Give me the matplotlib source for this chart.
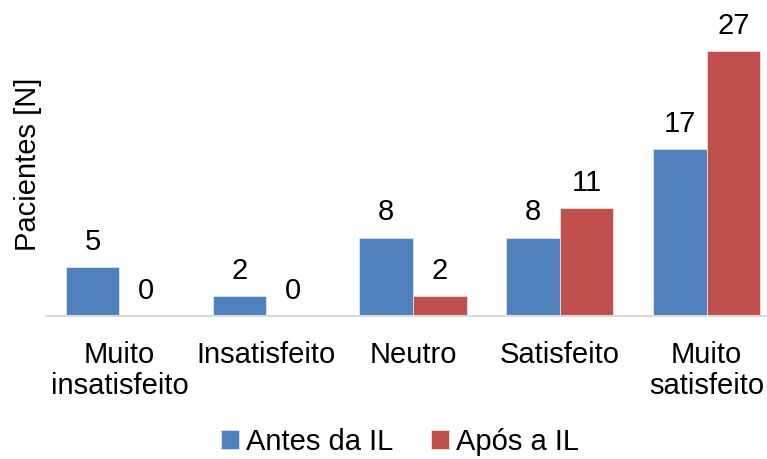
import matplotlib
matplotlib.use("Agg")
import matplotlib.pyplot as plt
import numpy as np

categories = ["Muito\ninsatisfeito", "Insatisfeito", "Neutro", "Satisfeito", "Muito\nsatisfeito"]
antes = [5, 2, 8, 8, 17]
apos = [0, 0, 2, 11, 27]
series_names = ["Antes da IL", "Após a IL"]

plt.rcParams['font.family'] = ['Liberation Sans', 'DejaVu Sans']
FS = 21

W, H = 767, 459
fig = plt.figure(figsize=(W / 100, H / 100), dpi=100)
left, right = 46 / W, 780 / W
bottom, top = (H - 316) / H, (H - 12) / H
ax = fig.add_axes([left, bottom, right - left, top - bottom])

x = np.arange(len(categories))
w = 0.365
blue, red = "#4F81BD", "#C0504D"
b1 = ax.bar(x - w / 2, antes, w, color=blue, edgecolor="#dfe6f0", linewidth=0.6, label=series_names[0])
b2 = ax.bar(x + w / 2, apos, w, color=red, edgecolor="#efdede", linewidth=0.6, label=series_names[1])

for bars, vals in ((b1, antes), (b2, apos)):
    for rect, v in zip(bars, vals):
        ax.annotate(str(v), (rect.get_x() + rect.get_width() / 2, v),
                    xytext=(0, 8), textcoords="offset points",
                    ha="center", va="bottom", fontsize=FS)

ax.set_xlim(-0.5, len(categories) - 0.5)
ax.set_ylim(0, 31)
ax.set_xticks(x)
ax.set_xticklabels(categories, fontsize=FS, linespacing=1.15)
ax.tick_params(axis="x", length=0, pad=18)
ax.set_yticks([])
for s in ("top", "right", "left"):
    ax.spines[s].set_visible(False)
ax.spines["bottom"].set_color("#D9D9D9")
ax.spines["bottom"].set_linewidth(1.5)
ax.set_ylabel("Pacientes [N]", fontsize=FS, labelpad=3)

fig.legend(handles=[b1, b2], labels=series_names, loc="center",
           bbox_to_anchor=(400 / W, 1 - 442 / H), ncol=2, frameon=False,
           fontsize=FS, handlelength=0.6, handleheight=0.6,
           handletextpad=0.25, columnspacing=1.3)

fig.savefig("out.png", dpi=100)
